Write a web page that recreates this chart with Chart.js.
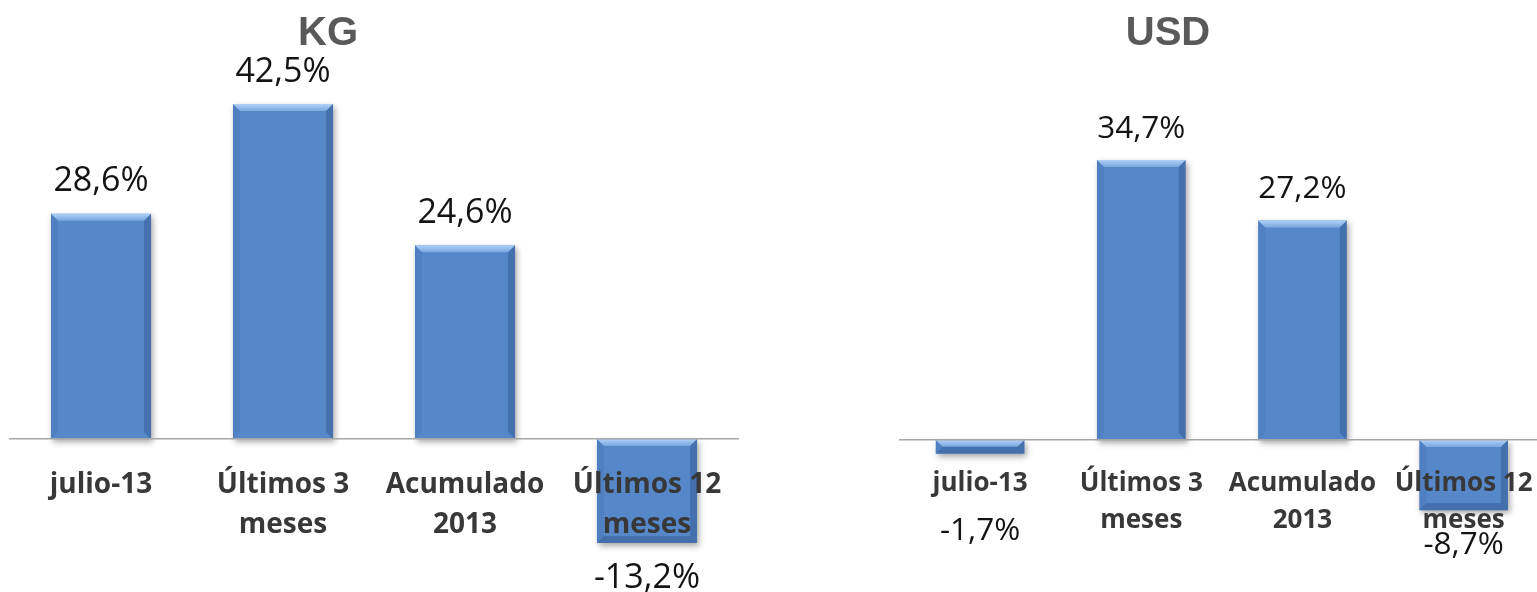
<!DOCTYPE html>
<html><head><meta charset="utf-8">
<script src="https://cdn.jsdelivr.net/npm/chart.js@4.4.1/dist/chart.umd.min.js"></script>
<style>
html,body{margin:0;padding:0;background:#fff;overflow:hidden;width:1537px;height:592px;}
#wrapKG{position:absolute;left:0;top:0;width:760px;height:592px;}
#wrapUSD{position:absolute;left:880px;top:0;width:680px;height:592px;}
canvas{display:block;}
</style></head><body>
<div id="wrapKG"><canvas id="kg" width="760" height="592"></canvas></div>
<div id="wrapUSD"><canvas id="usd" width="680" height="592"></canvas></div>
<script>
// ---- data ----
const categories = [["julio-13"], ["Últimos 3", "meses"], ["Acumulado", "2013"], ["Últimos 12", "meses"]];
const kgTitle = "KG";
const usdTitle = "USD";
const kgValues = [28.6, 42.5, 24.6, -13.2];
const usdValues = [-1.7, 34.7, 27.2, -8.7];

// ---- styles ----
const kgStyle = { padL: 10, padR: 22, padT: 60, yMin: -19.42, yMax: 48.10, tickSize: 28, tickLH: 40, tickPad: 26,
  valueSize: 34, gaps: [32, 32, 32, 35], titleX: 328, titleY: 34, titleSize: 40 };
const usdStyle = { padL: 19.5, padR: 15.5, padT: 60, yMin: -18.84, yMax: 47.09, tickSize: 26, tickLH: 37, tickPad: 25.5,
  valueSize: 31.5, gaps: [77, 31, 31, 35], titleX: 288, titleY: 34, titleSize: 40 };

function fmt(v) { return v.toFixed(1).replace('.', ',') + '%'; }

function poly(c, pts, fill) {
  c.beginPath(); c.moveTo(pts[0][0], pts[0][1]);
  for (let i = 1; i < pts.length; i++) c.lineTo(pts[i][0], pts[i][1]);
  c.closePath(); c.fillStyle = fill; c.fill();
}

const bevelPlugin = {
  id: 'bevel',
  beforeDatasetsDraw(chart) {
    const c = chart.ctx; c.save();
    c.shadowColor = 'rgba(0,0,0,0.35)'; c.shadowBlur = 6; c.shadowOffsetX = 2; c.shadowOffsetY = 3;
  },
  afterDatasetsDraw(chart) {
    const c = chart.ctx; c.restore();
    const vals = chart.data.datasets[0].data;
    chart.getDatasetMeta(0).data.forEach((el, i) => {
      const p = el.getProps(['x', 'y', 'base', 'width'], true);
      const l = p.x - p.width / 2, r = p.x + p.width / 2;
      const t = Math.min(p.y, p.base), b = Math.max(p.y, p.base);
      const bv = Math.min(7, (b - t) / 2);
      const g = c.createLinearGradient(0, t, 0, t + bv);
      g.addColorStop(0, '#b0d2f8'); g.addColorStop(1, '#78a6df');
      poly(c, [[l, t], [r, t], [r - bv, t + bv], [l + bv, t + bv]], g);
      poly(c, [[r, t], [r, b], [r - bv, b - bv], [r - bv, t + bv]], 'rgba(25,55,105,0.28)');
      poly(c, [[l, t], [l + bv, t + bv], [l + bv, b - bv], [l, b]], 'rgba(20,50,100,0.08)');
      if (vals[i] < 0) poly(c, [[l, b], [l + bv, b - bv], [r - bv, b - bv], [r, b]], 'rgba(25,55,105,0.30)');
    });
  }
};

function labelPlugin(title, st) {
  return {
    id: 'valueLabels',
    afterDraw(chart) {
      const c = chart.ctx; c.save();
      c.textAlign = 'center'; c.textBaseline = 'middle';
      c.font = 'bold ' + st.titleSize + 'px "Liberation Sans", Arial, sans-serif';
      c.fillStyle = '#595959';
      c.fillText(title, st.titleX, st.titleY);
      c.font = st.valueSize + 'px "Open Sans", sans-serif';
      c.fillStyle = '#141414';
      const ds = chart.data.datasets[0].data;
      chart.getDatasetMeta(0).data.forEach((el, i) => {
        const v = ds[i];
        const y = v >= 0 ? el.y - st.gaps[i] : el.y + st.gaps[i];
        c.fillText(fmt(v), el.x, y);
      });
      c.restore();
    }
  };
}

function makeChart(id, title, values, st) {
  return new Chart(document.getElementById(id), {
    type: 'bar',
    data: { labels: categories, datasets: [{ data: values, backgroundColor: '#5587c9', borderWidth: 0,
      barPercentage: 0.55, categoryPercentage: 1 }] },
    options: {
      responsive: false, animation: false, devicePixelRatio: 1,
      layout: { padding: { left: st.padL, right: st.padR, top: st.padT, bottom: 0 } },
      plugins: { legend: { display: false }, tooltip: { enabled: false }, title: { display: false } },
      scales: {
        y: { display: false, min: st.yMin, max: st.yMax },
        x: { position: { y: 0 }, z: 1,
          grid: { display: false, drawTicks: false },
          border: { display: true, color: '#a6a6a6', width: 1.5, z: 1 },
          ticks: { z: 2, color: '#383838', padding: st.tickPad, maxRotation: 0, autoSkip: false,
            font: { family: '"Open Sans", sans-serif', weight: 'bold', size: st.tickSize, lineHeight: st.tickLH / st.tickSize } } }
      }
    },
    plugins: [bevelPlugin, labelPlugin(title, st)]
  });
}

makeChart('kg', kgTitle, kgValues, kgStyle);
makeChart('usd', usdTitle, usdValues, usdStyle);
</script>
</body></html>
